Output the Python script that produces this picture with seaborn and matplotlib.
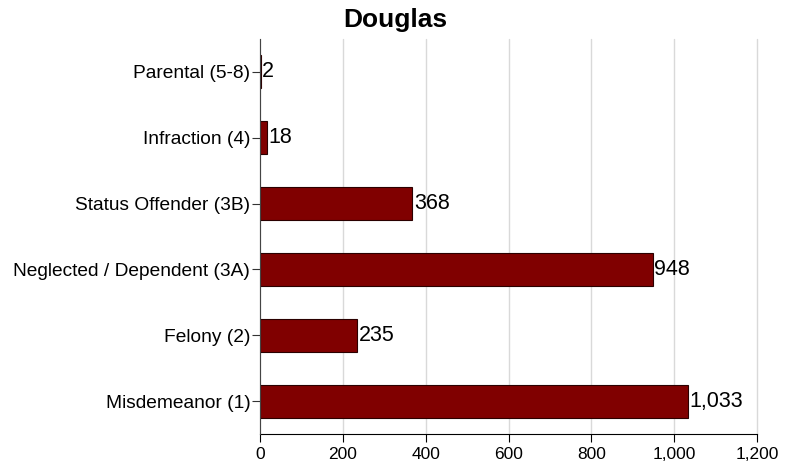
import matplotlib
matplotlib.use('Agg')
import matplotlib.pyplot as plt
import seaborn as sns
import pandas as pd

categories = ["Parental (5-8)", "Infraction (4)", "Status Offender (3B)",
              "Neglected / Dependent (3A)", "Felony (2)", "Misdemeanor (1)"]
counts = [2, 18, 368, 948, 235, 1033]
xticks = [0, 200, 400, 600, 800, 1000, 1200]
title = "Douglas"

df = pd.DataFrame({"category": categories, "count": counts})

sns.set_style("white")
plt.rcParams['font.family'] = ['Liberation Sans', 'DejaVu Sans']
plt.rcParams['text.color'] = 'black'

fig = plt.figure(figsize=(7.98, 4.69), dpi=100)
ax = fig.add_axes([260/798, 1 - 434/469, (757 - 260)/798, (434 - 39)/469])

sns.barplot(data=df, x="count", y="category", orient="h", order=categories,
            color="#800000", saturation=1, width=0.5, edgecolor="#2a0000",
            linewidth=0.8, ax=ax, zorder=3)

ax.set_xlim(0, 1200)
ax.set_ylim(5.5, -0.5)
ax.set_xticks(xticks)
ax.set_xticklabels([f"{v:,}" for v in xticks])
ax.xaxis.grid(True, color="#d9d9d9", linewidth=1, zorder=0)
for gl in ax.get_xgridlines():
    gl.set_clip_on(False)
ax.yaxis.grid(False)
ax.set_xlabel("")
ax.set_ylabel("")

for s in ["top", "right"]:
    ax.spines[s].set_visible(False)
ax.spines["left"].set_color("#444444")
ax.spines["bottom"].set_color("black")
ax.spines["left"].set_zorder(4)

ax.tick_params(axis="y", which="major", left=True, length=6, width=0.8,
               color="#333333", labelcolor="black", labelsize=13.8, pad=1)
ax.tick_params(axis="x", which="major", bottom=True, length=6, width=0.8,
               color="black", labelcolor="black", labelsize=12.5, pad=3)

for cont in ax.containers:
    ax.bar_label(cont, labels=[f"{v:,}" for v in counts], padding=1,
                 fontsize=15.5, color="black")

fig.text(395/798, 1 - 20/469, title, ha="center", va="center",
         fontsize=19, fontweight="bold", color="black")

fig.savefig("out.png", dpi=100)
